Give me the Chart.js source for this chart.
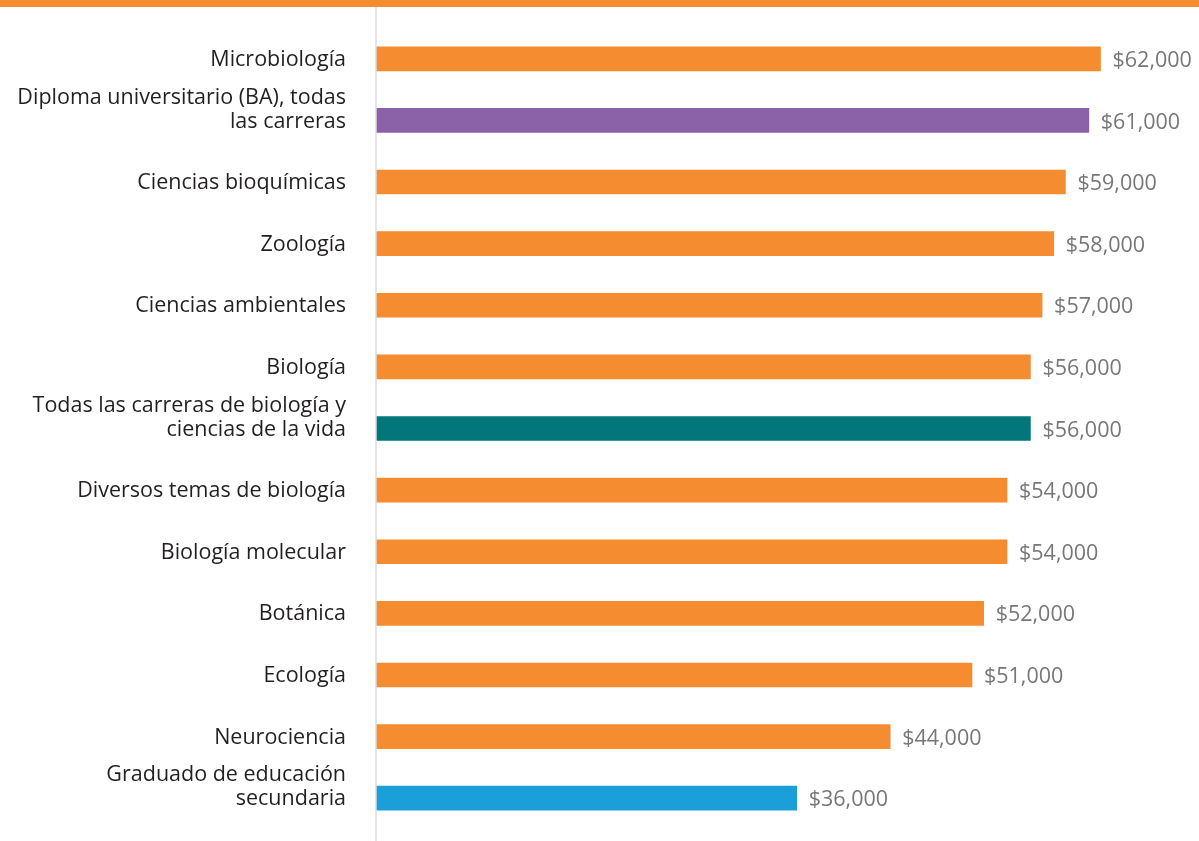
<!DOCTYPE html>
<html>
<head>
<meta charset="utf-8">
<script src="https://cdn.jsdelivr.net/npm/chart.js"></script>
<style>
    body { margin: 0; background: #fff; }
    #band { height: 7px; background: #f58c2f; }
    #wrap { position: relative; width: 1199px; height: 834px; }
</style>
</head>
<body>
<div id="band"></div>
<div id="wrap"><canvas id="salary-bar-chart"></canvas></div>
<script>
    // Majors and median salaries
    const majors = [
        ['Microbiología'],
        ['Diploma universitario (BA), todas', 'las carreras'],
        ['Ciencias bioquímicas'],
        ['Zoología'],
        ['Ciencias ambientales'],
        ['Biología'],
        ['Todas las carreras de biología y', 'ciencias de la vida'],
        ['Diversos temas de biología'],
        ['Biología molecular'],
        ['Botánica'],
        ['Ecología'],
        ['Neurociencia'],
        ['Graduado de educación', 'secundaria']
    ];
    const salaries = [62000, 61000, 59000, 58000, 57000, 56000, 56000, 54000, 54000, 52000, 51000, 44000, 36000];
    const barColors = ['#f58c2f', '#8b62a8', '#f58c2f', '#f58c2f', '#f58c2f', '#f58c2f', '#02767a',
                       '#f58c2f', '#f58c2f', '#f58c2f', '#f58c2f', '#f58c2f', '#1a9fd9'];

    const FONT = '"Open Sans", sans-serif';

    // draws category labels (last line lined up with the bar) and the value labels
    const labelPlugin = {
        id: 'labelPlugin',
        afterDatasetsDraw(chart) {
            const ctx = chart.ctx;
            const meta = chart.getDatasetMeta(0);
            const axisX = chart.scales.x.getPixelForValue(0);
            ctx.save();
            // axis line across the whole height
            ctx.strokeStyle = '#dcdcdc';
            ctx.lineWidth = 1.5;
            ctx.beginPath();
            ctx.moveTo(axisX, 0);
            ctx.lineTo(axisX, chart.height);
            ctx.stroke();

            ctx.textBaseline = 'middle';
            ctx.font = '21.5px ' + FONT;
            meta.data.forEach((bar, i) => {
                // category label
                ctx.fillStyle = '#231f20';
                ctx.textAlign = 'right';
                const lines = chart.data.labels[i];
                lines.forEach((line, j) => {
                    ctx.fillText(line, axisX - 30, bar.y + 1 - (lines.length - 1 - j) * 24);
                });
                // value label
                ctx.fillStyle = '#777777';
                ctx.textAlign = 'left';
                ctx.fillText('$' + salaries[i].toLocaleString('en-US'), bar.x + 12, bar.y + 2);
            });
            ctx.restore();
        }
    };

    const ctxBar = document.getElementById('salary-bar-chart').getContext('2d');
    const salaryChart = new Chart(ctxBar, {
        type: 'bar',
        data: {
            labels: majors,
            datasets: [{
                label: 'Salario',
                data: salaries,
                backgroundColor: barColors,
                borderWidth: 0,
                barThickness: 24
            }]
        },
        options: {
            indexAxis: 'y',
            responsive: true,
            maintainAspectRatio: false,
            animation: false,
            layout: {
                padding: { top: 21, bottom: 12, left: 0, right: 5 }
            },
            scales: {
                x: {
                    min: 0,
                    max: 70000,
                    display: false
                },
                y: {
                    grid: { display: false, drawTicks: false },
                    border: { display: false },
                    ticks: { display: false },
                    afterFit: (scale) => { scale.width = 376; }
                }
            },
            plugins: {
                legend: { display: false },
                tooltip: { enabled: false }
            }
        },
        plugins: [labelPlugin]
    });
</script>
</body>
</html>
